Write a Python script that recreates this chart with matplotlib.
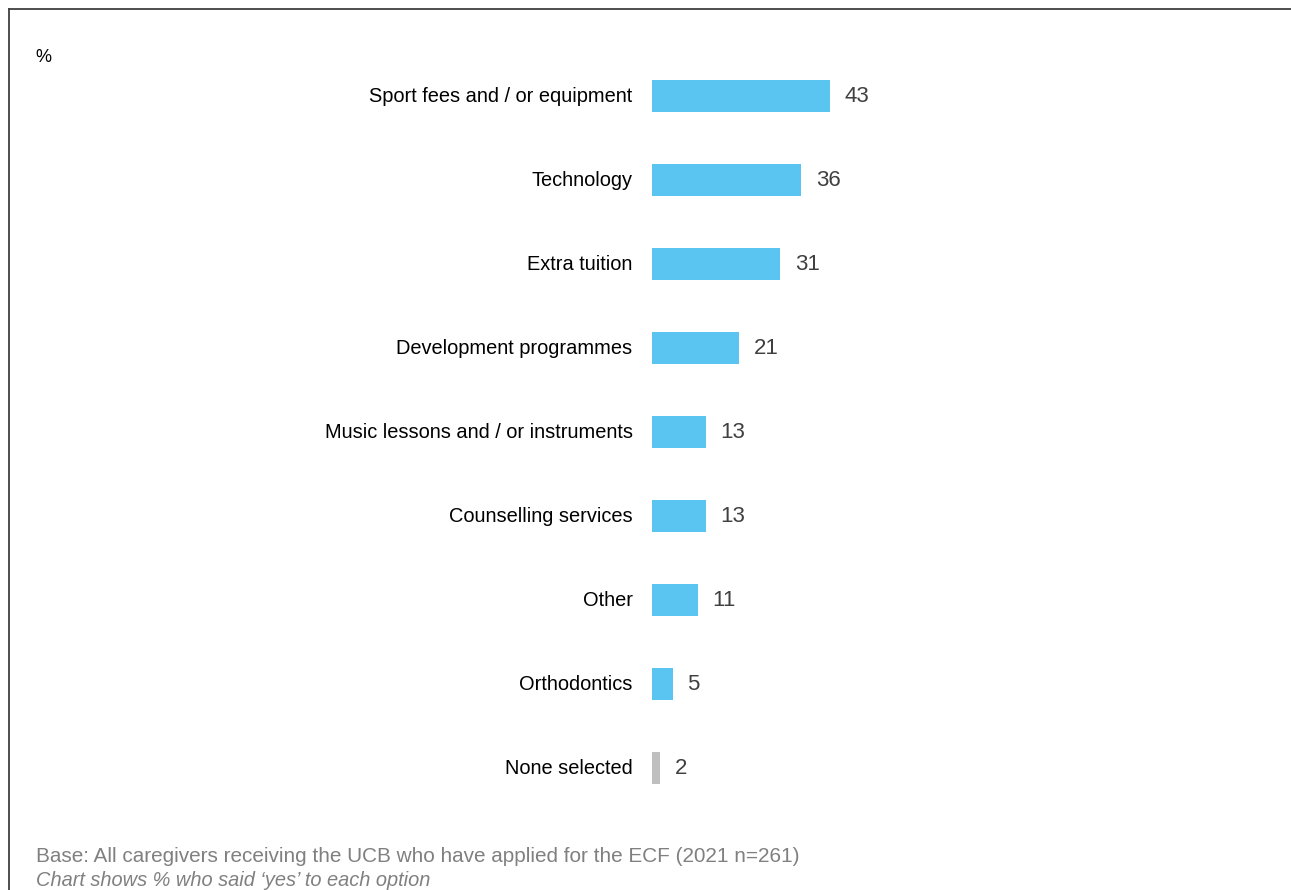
import matplotlib.pyplot as plt
from matplotlib.lines import Line2D

plt.rcParams['font.family'] = ['Liberation Sans', 'DejaVu Sans']

# survey options, top to bottom
categories = ['Sport fees and / or equipment', 'Technology', 'Extra tuition',
              'Development programmes', 'Music lessons and / or instruments',
              'Counselling services', 'Other', 'Orthodontics', 'None selected']
values = [43, 36, 31, 21, 13, 13, 11, 5, 2]
colours = ['#5BC5F2'] * 8 + ['#BFBFBF']

W, H = 1291, 890
fig = plt.figure(figsize=(W / 100, H / 100), dpi=100)

# axes starts at the zero line of the bars
ax = fig.add_axes([652 / W, 80 / H, (W - 652) / W, 756 / H])
pos = list(range(len(values)))
ax.barh(pos, values, height=0.38, color=colours)
ax.set_ylim(len(values) - 0.5, -0.5)
ax.set_xlim(0, (W - 652) / 4.14)
ax.axis('off')

for y, v, name in zip(pos, values, categories):
    ax.annotate(str(v), (v, y), xytext=(10.5, -0.5), textcoords='offset points',
                va='center', ha='left', fontsize=16, color='#404040')
    ax.annotate(name, (0, y), xytext=(-14, -0.5), textcoords='offset points',
                va='center', ha='right', fontsize=14.4, color='black')

fig.text(35 / W, 1 - 57 / H, '%', fontsize=13, va='center', ha='left')
fig.text(36 / W, 1 - 857 / H, 'Base: All caregivers receiving the UCB who have applied for the ECF (2021 n=261)',
         fontsize=14.95, color='#808080', va='center', ha='left')
fig.text(36 / W, 1 - 880 / H, 'Chart shows % who said \u2018yes\u2019 to each option',
         fontsize=14.4, color='#808080', style='italic', va='center', ha='left')

# frame lines on left and top
fig.add_artist(Line2D([8.5 / W, 8.5 / W], [0, 1 - 8.5 / H], color='#404040', lw=1.3))
fig.add_artist(Line2D([8.5 / W, 1], [1 - 8.5 / H, 1 - 8.5 / H], color='#404040', lw=1.3))

fig.savefig('out.png', dpi=100)
